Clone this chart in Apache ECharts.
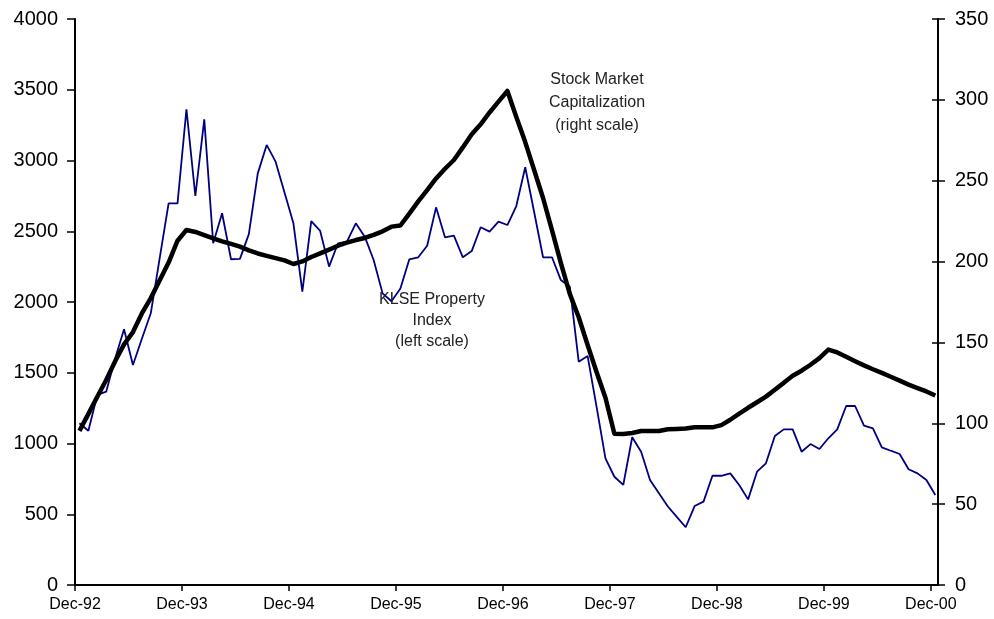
<!DOCTYPE html>
<html>
<head>
<meta charset="utf-8">
<script src="https://cdn.jsdelivr.net/npm/echarts@6/dist/echarts.min.js"></script>
<style>
    html, body { margin: 0; padding: 0; background: #fff; }
    #mychart { width: 994px; height: 619px; }
</style>
</head>
<body>
<div id="mychart"></div>
<script>
// x labels, one every 12 months starting Dec-92
var yearLabels = ['Dec-92', 'Dec-93', 'Dec-94', 'Dec-95', 'Dec-96', 'Dec-97', 'Dec-98', 'Dec-99', 'Dec-00'];

// KLSE Property Index, monthly Dec-92 .. Dec-00 (left scale)
var propertyIndex = [
    1143, 1090, 1343, 1366, 1600, 1807, 1555, 1740, 1920, 2310, 2697, 2697,
    3362, 2749, 3291, 2415, 2627, 2302, 2305, 2480, 2909, 3110, 2992, 2774,
    2556, 2073, 2572, 2502, 2250, 2415, 2426, 2556, 2462, 2297, 2061, 2005,
    2095, 2302, 2316, 2398, 2669, 2457, 2469, 2316, 2360, 2528, 2497, 2568,
    2544, 2678, 2952, 2636, 2316, 2316, 2155, 2108, 1578, 1618, 1260, 895,
    765, 707, 1044, 942, 742, 648, 555, 481, 408, 558, 589, 772,
    772, 789, 707, 605, 801, 860, 1053, 1100, 1100, 942, 996, 961,
    1037, 1100, 1265, 1265, 1126, 1107, 973, 949, 926, 818, 789, 742,
    636
];

// Stock market capitalization, monthly Dec-92 .. Dec-00 (right scale)
var marketCap = [
    95.3, 105.8, 116.4, 126.8, 138.4, 148.8, 156.4, 167.9, 177.4, 188.4, 199.4, 212.9,
    219.5, 218.3, 216.3, 214.3, 212.5, 210.9, 209.2, 206.9, 205.0, 203.5, 202.1, 200.7,
    198.5, 200.1, 202.8, 205.1, 207.4, 209.8, 211.7, 213.3, 214.6, 216.5, 218.7, 221.6,
    222.3, 229.6, 237.2, 244.2, 251.4, 257.4, 262.8, 270.6, 278.8, 284.9, 292.2, 298.9,
    305.5, 289.4, 273.9, 256.6, 239.3, 219.5, 199.0, 180.0, 165.6, 148.4, 131.7, 115.8,
    93.5, 93.4, 94.0, 95.2, 95.2, 95.2, 96.3, 96.5, 96.8, 97.5, 97.5, 97.5,
    98.9, 102.2, 106.0, 109.6, 113.0, 116.5, 120.8, 125.0, 129.4, 132.5, 136.2, 140.3,
    145.6, 143.8, 141.1, 138.4, 135.8, 133.4, 131.2, 128.8, 126.4, 123.9, 121.8, 119.7,
    117.2
];

var myChart = echarts.init(document.getElementById('mychart'));

// monthly points sit mid-month, ticks on the month start
var tickValues = yearLabels.map(function (d, i) { return i * 12; });
function toPoints(arr) {
    return arr.map(function (v, i) { return [i + 0.5, v]; });
}

var fontName = '"Liberation Sans", Arial, sans-serif';
var plainNumber = function (v) { return String(v); };

var option = {
    animation: false,
    backgroundColor: '#fff',
    grid: {
        left: 75,
        right: 56,
        top: 19,
        bottom: 34,
        outerBoundsMode: 'none'
    },
    xAxis: {
        type: 'value',
        min: 0,
        max: 96.8,
        splitLine: { show: false },
        axisLine: { lineStyle: { color: '#000', width: 2 } },
        axisTick: {
            length: 6,
            lineStyle: { color: '#000', width: 1.5 },
            customValues: tickValues
        },
        axisLabel: {
            color: '#000',
            fontSize: 16,
            fontFamily: fontName,
            margin: 12,
            customValues: tickValues,
            formatter: function (v) {
                return yearLabels[Math.round(v / 12)];
            }
        }
    },
    yAxis: [
        {
            type: 'value',
            position: 'left',
            min: 0,
            max: 4000,
            interval: 500,
            splitLine: { show: false },
            axisLine: { show: true, lineStyle: { color: '#000', width: 2 } },
            axisTick: { show: true, length: 8, lineStyle: { color: '#000', width: 1.5 } },
            axisLabel: { color: '#000', fontSize: 20, fontFamily: fontName, margin: 17, formatter: plainNumber }
        },
        {
            type: 'value',
            position: 'right',
            min: 0,
            max: 350,
            interval: 50,
            splitLine: { show: false },
            axisLine: { show: true, lineStyle: { color: '#000', width: 2 } },
            axisTick: { show: true, length: 7, lineStyle: { color: '#000', width: 1.5 } },
            axisLabel: { color: '#000', fontSize: 20, fontFamily: fontName, margin: 17, formatter: plainNumber }
        },
        {
            // inner half of the crossing ticks on the right scale
            type: 'value',
            position: 'right',
            min: 0,
            max: 350,
            interval: 50,
            splitLine: { show: false },
            axisLine: { show: false },
            axisTick: { show: true, inside: true, length: 6, lineStyle: { color: '#000', width: 1.5 } },
            axisLabel: { show: false }
        }
    ],
    series: [
        {
            name: 'KLSE Property Index',
            type: 'line',
            yAxisIndex: 0,
            symbol: 'none',
            lineStyle: { color: '#000080', width: 1.8 },
            data: toPoints(propertyIndex),
            z: 2
        },
        {
            name: 'Stock Market Capitalization',
            type: 'line',
            yAxisIndex: 1,
            symbol: 'none',
            lineStyle: { color: '#000', width: 4.5, join: 'round' },
            data: toPoints(marketCap),
            z: 3
        }
    ],
    graphic: [
        {
            type: 'text',
            x: 597,
            y: 68,
            style: {
                text: 'Stock Market\nCapitalization\n(right scale)',
                fill: '#222',
                font: '16px ' + fontName,
                lineHeight: 23,
                align: 'center',
                verticalAlign: 'top'
            },
            z: 10
        },
        {
            type: 'text',
            x: 432,
            y: 289,
            style: {
                text: 'KLSE Property\nIndex\n(left scale)',
                fill: '#222',
                font: '16px ' + fontName,
                lineHeight: 21,
                align: 'center',
                verticalAlign: 'top'
            },
            z: 10
        }
    ]
};

myChart.setOption(option);
</script>
</body>
</html>
